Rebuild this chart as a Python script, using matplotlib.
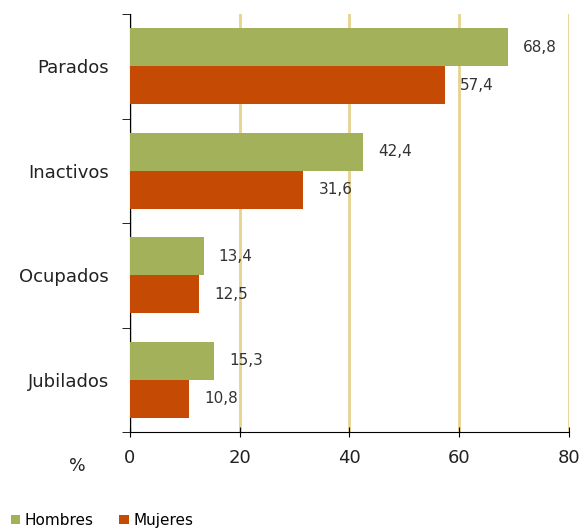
import matplotlib
matplotlib.use("Agg")
import matplotlib.pyplot as plt
import numpy as np

plt.rcParams["font.family"] = ["DejaVu Sans"]

categorias = ["Parados", "Inactivos", "Ocupados", "Jubilados"]
hombres = [68.8, 42.4, 13.4, 15.3]
mujeres = [57.4, 31.6, 12.5, 10.8]
etiquetas_h = ["68,8", "42,4", "13,4", "15,3"]
etiquetas_m = ["57,4", "31,6", "12,5", "10,8"]

verde = "#A3B15A"
rojo = "#C54A04"
rejilla = "#E6D38E"

fig = plt.figure(figsize=(5.84, 5.31), dpi=100)
ax = fig.add_axes([0.2226, 0.1864, 0.7517, 0.7872])

y = np.arange(len(categorias))
h = 0.365
ax.barh(y - h / 2, hombres, height=h, color=verde, label="Hombres", zorder=3)
ax.barh(y + h / 2, mujeres, height=h, color=rojo, label="Mujeres", zorder=3)

for i in range(len(categorias)):
    ax.annotate(etiquetas_h[i], (hombres[i], y[i] - h / 2), xytext=(11, 0),
                textcoords="offset points", va="center", ha="left", fontsize=11, color="#333333")
    ax.annotate(etiquetas_m[i], (mujeres[i], y[i] + h / 2), xytext=(11, 0),
                textcoords="offset points", va="center", ha="left", fontsize=11, color="#333333")

ax.set_xlim(0, 80)
ax.set_ylim(len(categorias) - 0.5, -0.5)
ax.set_xticks([0, 20, 40, 60, 80])
ax.set_yticks(y)
ax.set_yticklabels(categorias)
ax.set_yticks(np.arange(-0.5, len(categorias), 1), minor=True)
ax.tick_params(axis="y", which="major", length=0, labelsize=13, pad=15, labelcolor="#222222")
ax.tick_params(axis="y", which="minor", length=6, direction="out")
ax.tick_params(axis="x", length=7, direction="inout", labelsize=13, pad=9, labelcolor="#222222")
ax.grid(axis="x", color=rejilla, linewidth=2, zorder=0)
for s in ["top", "right"]:
    ax.spines[s].set_visible(False)

fig.text(0.132, 0.122, "%", fontsize=12.5, ha="center", va="center", color="#222222")
fig.legend(loc="center left", bbox_to_anchor=(0.0, 0.02), ncol=2, frameon=False,
           fontsize=11, handlelength=0.6, handleheight=0.6, handletextpad=0.3,
           columnspacing=1.7, borderpad=0.2)

fig.savefig("out.png", dpi=100)
